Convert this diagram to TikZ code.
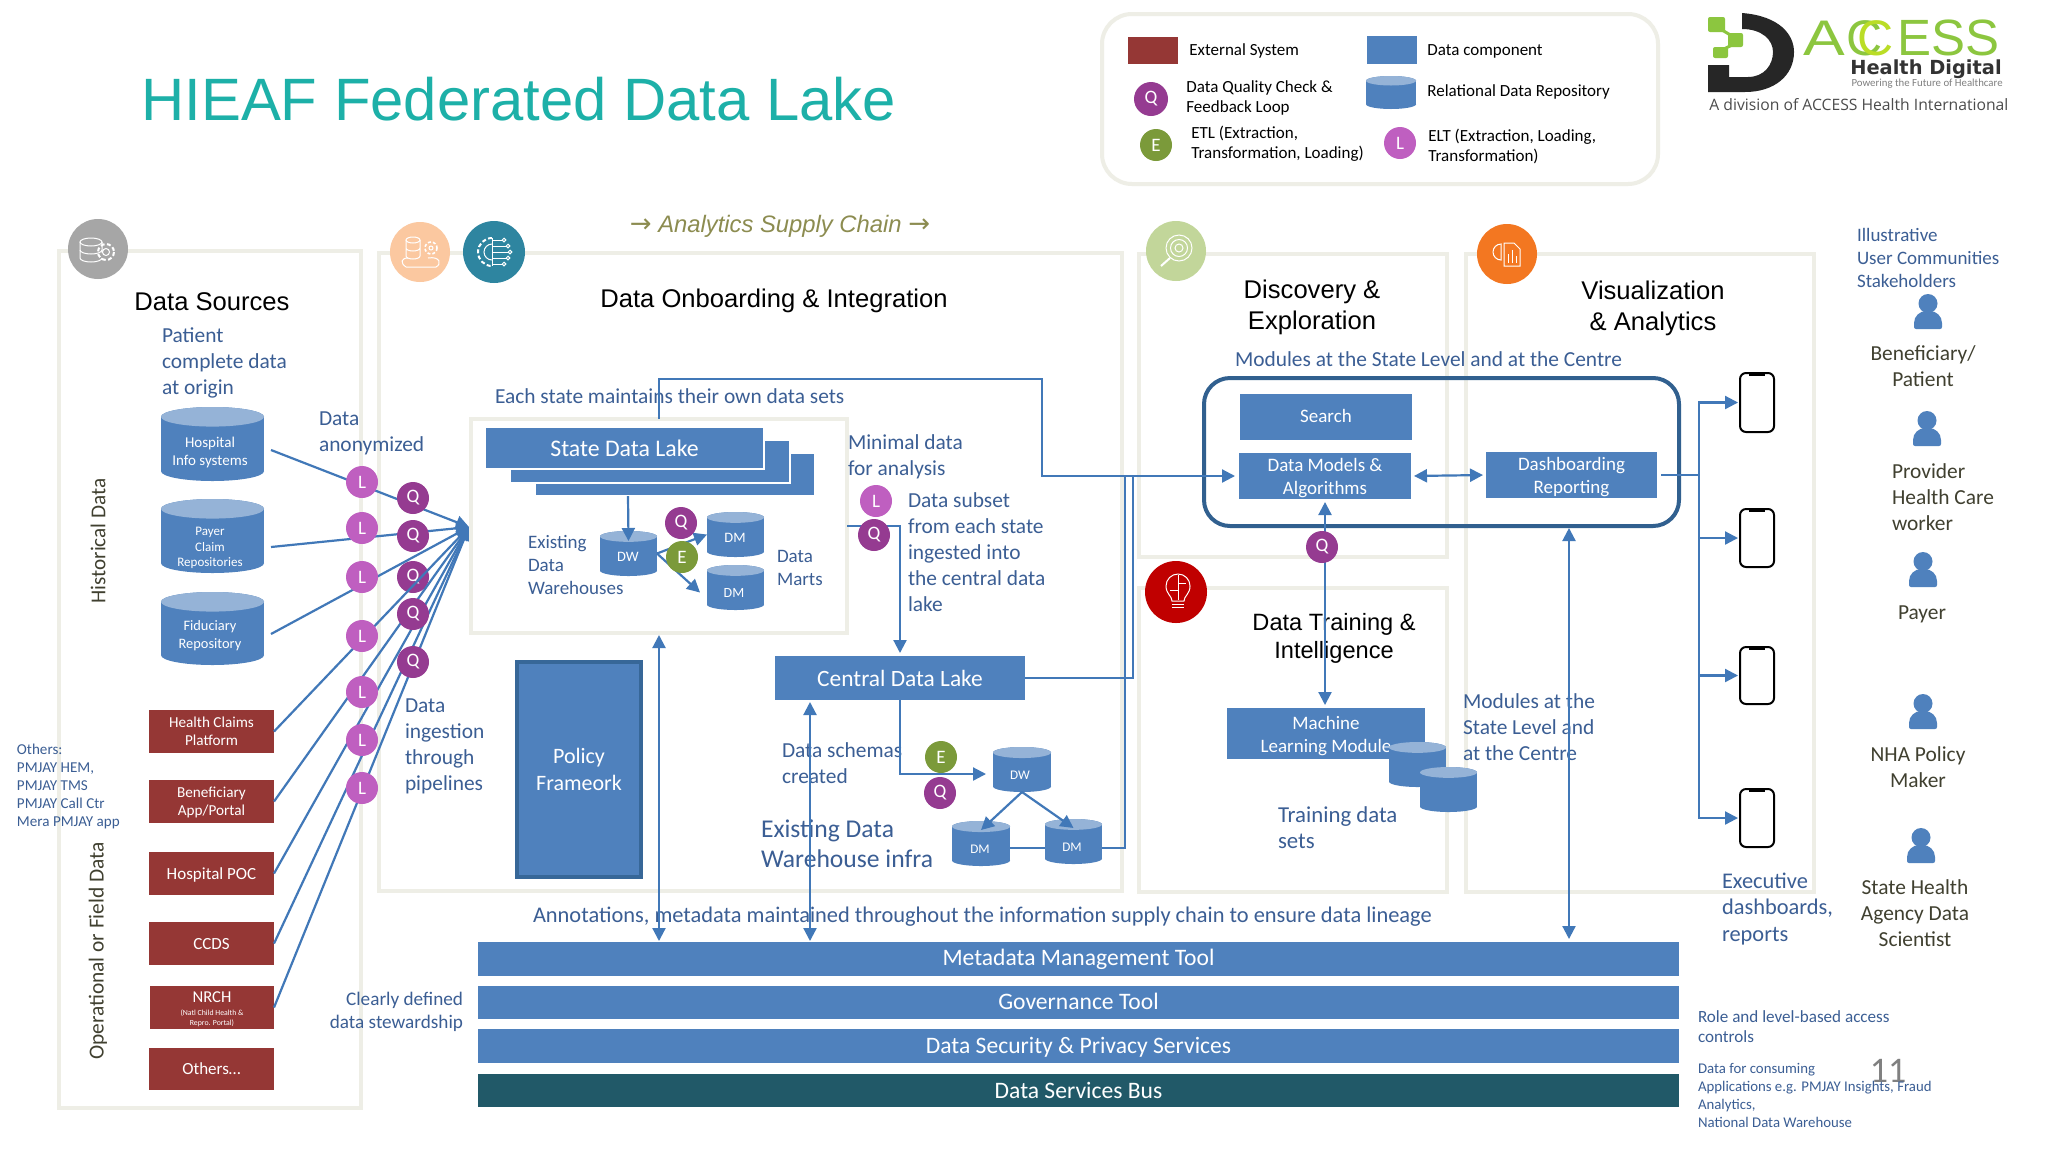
\documentclass[tikz,border=0pt]{standalone}
\usepackage{fontspec}
\usepackage{graphicx}
\usetikzlibrary{arrows.meta,calc}
\setmainfont{Carlito}
\newfontfamily\arl{Liberation Sans}
\newfontfamily\djv{DejaVu Sans}
\newfontfamily\ops{Open Sans}
\definecolor{bl}{HTML}{4F81BD}
\definecolor{bltop}{HTML}{95B3D7}
\definecolor{rd}{HTML}{953735}
\definecolor{pn}{HTML}{EEEEE6}
\definecolor{ln}{HTML}{4178B8}
\definecolor{tx}{HTML}{3B5E94}
\definecolor{grn}{HTML}{404030}
\definecolor{cL}{HTML}{BF5FC0}
\definecolor{cQ}{HTML}{953B91}
\definecolor{cE}{HTML}{7B9A3A}
\definecolor{nv}{HTML}{31608F}
\definecolor{tealbar}{HTML}{215968}
\definecolor{ttl}{HTML}{1DB0A8}
\definecolor{asc}{HTML}{8C8C50}
\definecolor{lgG}{HTML}{8CC63F}
\definecolor{icPeach}{HTML}{FBC8A0}
\definecolor{icTeal}{HTML}{2E85A0}
\definecolor{icGreen}{HTML}{C2D69A}
\definecolor{icOrange}{HTML}{F37721}
\definecolor{icRed}{HTML}{C00000}
\newcommand{\LL}[1]{\begin{tabular}[t]{@{}l@{}}#1\end{tabular}}
\newcommand{\CC}[1]{\begin{tabular}[t]{@{}c@{}}#1\end{tabular}}
\newcommand{\RR}[1]{\begin{tabular}[t]{@{}r@{}}#1\end{tabular}}
\newcommand{\Dn}[2]{\raisebox{-#1pt}[\height][\depth]{\begin{tabular}{@{}c@{}}#2\end{tabular}}}
\newcommand{\Bx}[7]{\pgfmathsetmacro\bxcx{(#2+#4)/2}\pgfmathsetmacro\bxcy{(#3+#5)/2}\pgfmathsetmacro\bxw{(#4-#2)*0.5}\pgfmathsetmacro\bxh{(#5-#3)*0.5}\node[inner sep=0,outer sep=0,minimum width=\bxw pt,minimum height=\bxh pt,#6] (#1) at (\bxcx,\bxcy) {#7};}
\newcommand{\Cyl}[5]{\pgfmathsetmacro\cyx{(#2+#4)/2}\pgfmathsetmacro\cyr{(#4-#2)*0.095}\pgfmathsetmacro\cyw{(#4-#2)/2}%
\fill[bl] (#2,#3+\cyr) rectangle (#4,#5-\cyr);\fill[bl] (\cyx,#5-\cyr) ellipse[x radius=\cyw,y radius=\cyr];\fill[bl] (\cyx,#3+\cyr) ellipse[x radius=\cyw,y radius=\cyr];%
\fill[bltop] (\cyx,#3+\cyr) ellipse[x radius=\cyw,y radius=\cyr];\Bx{#1}{#2}{#3}{#4}{#5}{}{}}
\newcommand{\Phone}[3]{\Bx{#1}{1740}{#2}{1774}{#3}{draw=black,line width=1pt,rounded corners=3pt,fill=white}{}\fill[black] (1749,#2) rectangle (1765,#2+2.5);}
\newcommand{\Pers}[2]{\begin{scope}[shift={(#1,#2)}]\fill[bl] (0,9.5) circle[radius=9.5];\fill[bl,rounded corners=1pt] (-14,35) -- (-14,31) .. controls (-14,22) and (-8,17) .. (0,17) .. controls (8,17) and (14,22) .. (14,31) -- (14,35) -- cycle;\end{scope}}
\tikzset{
 sz/.style 2 args={font=\fontsize{#1}{#2}\selectfont},
 arlz/.style 2 args={font=\arl\fontsize{#1}{#2}\selectfont},
 t/.style={inner sep=0,outer sep=0,anchor=base west,text=tx,sz={10.7}{13}},
 tc/.style={inner sep=0,outer sep=0,anchor=base,text=grn,sz={10.7}{13}},
 hd/.style={inner sep=0,outer sep=0,anchor=base,text=black,arlz={12.8}{15.5}},
 w/.style={text=white,align=center},
 panel/.style={draw=pn,line width=2pt,fill=white,fill opacity=0},
 blue/.style={fill=bl,w,sz={9.5}{11.5}},
 red/.style={fill=rd,w,sz={7.6}{9}},
 bar/.style={fill=bl,w,sz={11.8}{14}},
 ball/.style={circle,inner sep=0,minimum size=16pt,text=white,sz={9.5}{11}},
 bL/.style={ball,fill=cL},bQ/.style={ball,fill=cQ},bE/.style={ball,fill=cE},
 cn/.style={draw=ln,line width=1.1pt},
 ar/.style={cn,-{Triangle[length=6.5pt,width=6.5pt]}},
 dar/.style={cn,{Triangle[length=6.5pt,width=6.5pt]}-{Triangle[length=6.5pt,width=6.5pt]}},
 ic/.style={draw=white,line width=0.5pt,fill=none},
 cyt/.style={text=white,inner sep=0,align=center},
}
\begin{document}
\begin{tikzpicture}[x=0.5pt,y=-0.5pt]
\useasboundingbox[fill=white] (0,0) rectangle (2048,1152);
% panels
\Bx{pDS}{59}{251}{361}{1108}{panel}{}
\Bx{pON}{379}{253}{1122}{891}{panel}{}
\Bx{pDE}{1139}{254}{1447}{557}{panel}{}
\Bx{pTR}{1139}{588}{1447}{892}{panel}{}
\Bx{pVI}{1466}{254}{1814}{892}{panel}{}
% title
\node[inner sep=0,anchor=base west,text=ttl,arlz={29.9}{34}] (title) at (141,120) {HIEAF Federated Data Lake};
\node[inner sep=0,anchor=base,text=asc,font=\arl\itshape\fontsize{11.9}{15}\selectfont] (ascn) at (780,232) {{\djv\fontsize{13}{15}\selectfont →} Analytics Supply Chain {\djv\fontsize{13}{15}\selectfont →}};
% legend
\Bx{leg}{1102}{14}{1658}{184}{draw=pn,line width=2pt,rounded corners=15pt}{}
\Bx{lgR}{1128}{37}{1178}{64}{fill=rd}{}
\Bx{lgB}{1367}{36}{1417}{64}{fill=bl}{}
\Cyl{lgC}{1366}{76}{1416}{109}
\node[bQ,minimum size=17pt] (lgQ) at (1151,99) {Q};
\node[bE] (lgE) at (1156,145) {E};
\node[bL] (lgL) at (1400,143) {L};
\tikzset{lt/.style={inner sep=0,anchor=base west,text=black,sz={8.5}{10}}}
\node[lt] (lt1) at (1189,55) {External System};
\node[lt] (lt2) at (1427,55) {Data component};
\node[lt] (lt3) at (1186,92) {\LL{Data Quality Check \&\\Feedback Loop}};
\node[lt] (lt4) at (1427,96) {Relational Data Repository};
\node[lt] (lt5) at (1191,138) {\LL{ETL (Extraction,\\Transformation, Loading)}};
\node[lt] (lt6) at (1428,141) {\LL{ELT (Extraction, Loading,\\Transformation)}};
% logo
\fill[black!85] (1742,13) .. controls (1780,16) and (1794,35) .. (1794,52) .. controls (1794,75) and (1775,92) .. (1745,92) -- (1708,92) -- (1708,65) -- (1729,65) -- (1729,77) -- (1748,77) .. controls (1764,77) and (1773,65) .. (1773,52) .. controls (1773,40) and (1762,29) .. (1742,29) -- cycle;
\fill[lgG,rounded corners=1pt] (1708,17) rectangle (1725,32);
\fill[lgG,rounded corners=1pt] (1728,33) rectangle (1743,47);
\fill[lgG,rounded corners=1pt] (1713,47) rectangle (1728,58);
\draw[lgG,line width=1.5pt] (1722,30) -- (1732,36) (1732,45) -- (1724,49);
\node[inner sep=0,anchor=base west,text=lgG,arlz={25}{28}] (lgA) at (1803,55) {\scalebox{1.25}[1]{A}};
\node[inner sep=0,anchor=base west,text=lgG,arlz={25}{28}] (lgC1) at (1846,55) {C};
\node[inner sep=0,anchor=base west,text=lgG!60!yellow,arlz={25}{28}] (lgC2) at (1857,55) {C};
\node[inner sep=0,anchor=base west,text=lgG,arlz={25.5}{28}] (lgE2) at (1897,55) {ESS};
\node[inner sep=0,anchor=base east,text=black!80,font=\djv\bfseries\fontsize{9.7}{11}\selectfont] (lgH) at (2002,74) {Health Digital};
\node[inner sep=0,anchor=base east,text=black!50,sz={5.4}{6}] (lgP) at (2003,86) {Powering the Future of Healthcare};
\node[inner sep=0,anchor=base west,text=black!70,font=\ops\fontsize{7.85}{9}\selectfont] (lgD) at (1709,110) {A division of ACCESS Health International};
% icons
\fill[black!35] (98,249) circle[radius=30];
\draw[ic] (80,242) -- (80,258) arc[start angle=180,end angle=0,x radius=11,y radius=4] (102,242) -- (102,253);
\draw[ic] (91,242) ellipse[x radius=11,y radius=4];
\draw[ic] (80,250) arc[start angle=180,end angle=0,x radius=11,y radius=4];
\draw[ic,line width=1pt,dash pattern=on 2pt off 1.2pt] (106,252) circle[radius=8];
\draw[ic] (106,252) circle[radius=3.5];
\fill[icPeach] (420,252) circle[radius=30];
\draw[ic] (413,240) ellipse[x radius=7,y radius=3]; \draw[ic] (406,240) -- (406,256) (420,240) -- (420,256) (406,248) arc[start angle=180,end angle=0,x radius=7,y radius=3] (406,256) arc[start angle=180,end angle=0,x radius=7,y radius=3];
\draw[ic] (406,267) .. controls (400,263) and (401,258) .. (408,258) (428,258) .. controls (440,256) and (442,264) .. (436,267) -- (406,267);
\draw[ic,dash pattern=on 1.5pt off 1pt,line width=.8pt] (431,248) circle[radius=6];
\draw[ic] (431,248) circle[radius=2];
\fill[icTeal] (494,252) circle[radius=31];
\draw[ic,line width=1pt,dash pattern=on 2pt off 1.2pt] (492,238) arc[start angle=270,end angle=90,radius=14];
\draw[ic] (492,238) -- (492,266);
\draw[ic] (492,244) arc[start angle=270,end angle=90,radius=8];
\foreach \yy/\xx in {240/502,246/506,252/508,258/506,264/502}{\draw[ic] (492,\yy) -- (\xx,\yy); \draw[ic] (\xx+2,\yy) circle[radius=1.8];}
\fill[icGreen] (1176,251) circle[radius=30];
\draw[ic] (1179,248) circle[radius=13] (1179,248) circle[radius=8.5] (1179,248) circle[radius=4];
\draw[ic,line width=1pt] (1170,258) -- (1161,266);
\fill[icOrange] (1507,254) circle[radius=30];
\draw[ic] (1504,243) -- (1514,243) -- (1520,249) -- (1520,266) -- (1504,266) -- cycle;
\draw[ic] (1508,263) -- (1508,254) (1512,263) -- (1512,250) (1516,263) -- (1516,256);
\draw[ic] (1501,244) arc[start angle=270,end angle=90,radius=8] -- cycle;
\fill[icRed] (1176,592) circle[radius=31];
\draw[ic] (1172,601) .. controls (1172,596) and (1166,594) .. (1166,586) arc[start angle=180,end angle=360,radius=12] .. controls (1190,594) and (1184,596) .. (1184,601) -- cycle;
\draw[ic] (1172,604) -- (1184,604) (1172,607) -- (1184,607) (1178,575) -- (1178,600) (1178,583) -- (1186,583) (1178,590) -- (1170,590);
% headings
\node[hd] (hDS) at (212,310) {Data Sources};
\node[hd] (hON) at (774,307) {Data Onboarding \& Integration};
\node[hd] (hDE) at (1312,298) {\CC{Discovery \&\\Exploration}};
\node[hd] (hVI) at (1653,299) {\CC{Visualization\\\& Analytics}};
\node[hd,arlz={11.8}{14}] (hTR) at (1334,630) {\CC{Data Training \&\\Intelligence}};
% left texts
\node[t] (tPat) at (162,342) {\LL{Patient\\complete data\\at origin}};
\node[t] (tAno) at (319,425) {\LL{Data\\anonymized}};
\node[t] (tIng) at (405,712) {\LL{Data\\ingestion\\through\\pipelines}};
\node[t,sz={9.6}{11.5},anchor=base east] (tCle) at (463,1005) {\RR{Clearly defined\\data stewardship}};
\node[t,sz={7.55}{9}] (tOth) at (17,754) {\LL{Others:\\PMJAY HEM,\\PMJAY TMS\\PMJAY Call Ctr\\Mera PMJAY app}};
\node[inner sep=0,rotate=90,text=grn,sz={10.6}{11}] (vHis) at (98,541) {Historical Data};
\node[inner sep=0,rotate=90,text=grn,sz={10.7}{11}] (vOpe) at (98,951) {Operational or Field Data};
% source cylinders
\Cyl{cHos}{161}{407}{264}{481}
\node[cyt,sz={7.5}{9}] (cHosT) at (210,452) {Hospital\\Info systems};
\Cyl{cPay}{161}{499}{264}{573}
\node[cyt,sz={6.5}{7.6}] (cPayT) at (210,548) {Payer\\Claim\\Repositories};
\Cyl{cFid}{161}{592}{264}{665}
\node[cyt,sz={7.2}{9}] (cFidT) at (210,636) {Fiduciary\\Repository};
% red boxes
\Bx{rHC}{149}{710}{274}{753}{red}{\Dn{0.65}{Health Claims\\Platform}}
\Bx{rBe}{149}{780}{274}{823}{red}{\Dn{0.65}{Beneficiary\\App/Portal}}
\Bx{rPO}{149}{852}{274}{895}{red,sz={8.5}{9}}{\Dn{1.2}{Hospital POC}}
\Bx{rCC}{149}{922}{274}{965}{red,sz={8.5}{9}}{\Dn{1.2}{CCDS}}
\Bx{rNR}{150}{986}{274}{1029}{red}{}
\node[inner sep=0,text=white,sz={8.3}{9}] (rNRa) at (212,997) {NRCH};
\node[inner sep=0,text=white,align=center,sz={3.9}{5}] (rNRb) at (212,1018) {(Natl Child Health \&\\Repro. Portal)};
\Bx{rOt}{149}{1048}{274}{1090}{red,sz={8.5}{9}}{\Dn{0.7}{Others…}}
% ingestion connectors
\coordinate (tip) at (469,527);
\coordinate (oHos) at (271,450);
\coordinate (oPay) at (271,547);
\coordinate (oFid) at (271,634);
\node[bQ] (Q3) at (413,577) {Q};
\foreach \src in {oHos,oPay,oFid,rHC.east,rBe.east,rPO.east,rCC.east,rNR.east}{\draw[ar] (\src) -- (tip);}
\node[bL] (L1) at (362,482) {L};
\node[bL] (L2) at (362,528) {L};
\node[bL] (L3) at (362,577) {L};
\node[bL] (L4) at (362,636) {L};
\node[bL] (L5) at (362,692) {L};
\node[bL] (L6) at (362,740) {L};
\node[bL] (L7) at (362,788) {L};
\node[bQ] (Q1) at (413,498) {Q};
\node[bQ] (Q2) at (413,536) {Q};
\node[bQ] (Q4) at (413,614) {Q};
\node[bQ] (Q5) at (413,662) {Q};
% bars
\Bx{meta}{478}{942}{1679}{976}{bar}{\Dn{0.65}{Metadata Management Tool}}
\Bx{gov}{478}{986}{1679}{1019}{bar}{\Dn{0.65}{Governance Tool}}
\Bx{sec}{478}{1029}{1679}{1063}{bar}{\Dn{1}{Data Security \& Privacy Services}}
\Bx{bus}{478}{1074}{1679}{1107}{bar,fill=tealbar}{Data Services Bus}
% state panel
\Bx{sp}{471}{419}{847}{633}{draw=pn,line width=2pt,fill=white}{}
\Bx{sl3}{535}{453}{815}{496}{fill=bl,draw=white,line width=1pt}{}
\Bx{sl2}{510}{440}{790}{483}{fill=bl,draw=white,line width=1.2pt}{}
\Bx{sl1}{485}{427}{764}{469}{blue,draw=white,line width=1.2pt,sz={11.9}{13}}{State Data Lake}
\Cyl{dw1}{600}{531}{657}{576}
\node[cyt,sz={7.2}{9}] (dw1T) at (628,557) {DW};
\Cyl{dm1}{707}{512}{764}{557}
\node[cyt,sz={7.2}{9}] (dm1T) at (735,538) {DM};
\Cyl{dm2}{707}{565}{764}{610}
\node[cyt,sz={7}{9}] (dm2T) at (734,593) {DM};
\coordinate (slo) at (628,496);
\draw[ar] (slo) -- ($(dw1.north)+(0,10)$);
\draw[ar] (dw1.east) -- (dm1.west);
\draw[ar] (dw1.east) -- ($(dm2.west)+(-7,5)$);
\node[bQ] (Qs) at (681,523) {Q};
\node[bE] (Es) at (682,557) {E};
\node[t,sz={9.5}{11.6}] (tExi) at (528,548) {\LL{Existing\\Data\\Warehouses}};
\node[t,sz={9.5}{11.6}] (tMar) at (777,562) {\LL{Data\\Marts}};
\node[t] (tEach) at (495,403) {Each state maintains their own data sets};
\node[t] (tMin) at (848,449) {\LL{Minimal data\\for analysis}};
\node[t] (tSub) at (908,507) {\LL{Data subset\\from each state\\ingested into\\the central data\\lake}};
% policy, central
\Bx{pol}{517}{662}{641}{877}{fill=bl,draw=nv!80!bl,line width=2pt,w,sz={11}{13.5}}{Policy\\Frameork}
\Bx{cl}{775}{656}{1025}{700}{blue,sz={11.7}{13}}{Central Data Lake}
\node[t] (tSch) at (782,757) {\LL{Data schemas\\created}};
\node[t,sz={12.8}{15}] (tInf) at (761,837) {\LL{Existing Data\\Warehouse infra}};
\node[t,sz={11.2}{13}] (tAnn) at (533,922) {Annotations, metadata maintained throughout the information supply chain to ensure data lineage};
\Cyl{dw2}{993}{747}{1051}{792}
\node[cyt,sz={6.6}{8}] (dw2T) at (1020,775) {DW};
\Cyl{dma}{952}{821}{1010}{866}
\node[cyt,sz={6.6}{8}] (dmaT) at (980,849) {DM};
\Cyl{dmb}{1045}{819}{1102}{864}
\node[cyt,sz={6.6}{8}] (dmbT) at (1072,847) {DM};
% discovery
\node[t] (tMod) at (1235,366) {Modules at the State Level and at the Centre};
\Bx{mod}{1204}{378}{1679}{526}{draw=nv,line width=2pt,rounded corners=13pt}{}
\Bx{sr}{1240}{394}{1412}{440}{blue}{\Dn{0.65}{Search}}
\Bx{dm}{1239}{453}{1411}{499}{blue}{\Dn{1.3}{Data Models \&\\Algorithms}}
\Bx{db}{1486}{452}{1657}{498}{blue}{\Dn{1.2}{Dashboarding\\Reporting}}
\Bx{ml}{1227}{708}{1425}{759}{blue}{\Dn{1.6}{Machine\\Learning Module}}
\Cyl{ts1}{1389}{742}{1446}{787}
\Cyl{ts2}{1420}{767}{1477}{812}
\node[t,sz={11.4}{13}] (tTra) at (1278,822) {\LL{Training data\\sets}};
\node[t] (tSta) at (1463,708) {\LL{Modules at the\\State Level and\\at the Centre}};
% phones
\Phone{ph1}{373}{432}
\Phone{ph2}{509}{567}
\Phone{ph3}{647}{704}
\Phone{ph4}{789}{847}
\node[t,sz={11.2}{13.4}] (tExe) at (1722,888) {\LL{Executive\\dashboards,\\reports}};
% connectors
\coordinate (j1) at (1042,430);
\draw[ar,shorten >=2pt] (sp.north) -- ++(0,-40) -| (j1) |- (dm.west);
\draw[ar,shorten >=1.5pt] (sp.east) -| (cl.north);
\draw[dar,shorten <=1pt,shorten >=0.5pt] (sp.south) -- (sp.south |- meta.north);
\coordinate (c1) at (810,702);
\draw[dar,shorten >=0.5pt] (c1) -- (c1 |- meta.north);
\coordinate (in2) at (986,774);
\draw[ar] (cl.south) |- (in2);
\draw[ar] (dw2.south) -- ($(dma.north)+(0,9)$);
\draw[ar] (dw2.south) -- ($(dmb.north)+(0,9)$);
\coordinate (mdA) at (1010,848); \coordinate (mdB) at (1045,848); \coordinate (mdC) at (1102,848);
\draw[cn] (mdA) -- (mdB);
\coordinate (b1) at (1125,476); \coordinate (b2) at (1133,476);
\draw[cn] (mdC) -| (b1);
\draw[cn] (cl.east) -| (b2);
\node[bE] (Ec) at (941,757) {E};
\node[bQ] (Qc) at (940,793) {Q};
\node[bL] (Lm) at (876,501) {L};
\node[bQ] (Qm) at (874,535) {Q};
\draw[dar,shorten <=1.5pt,shorten >=1.5pt] (dm.east) -- (db.west);
\draw[dar,shorten <=1.5pt,shorten >=1.5pt] (dm.south) -- (dm.south |- ml.north);
\node[bQ] (Qd) at (1322,547) {Q};
\coordinate (v1) at (1569,526);
\draw[dar,shorten <=1pt,shorten >=1.5pt] (v1) -- (v1 |- meta.north);
\coordinate (b3) at (1699,475);
\draw[cn,shorten <=2pt] (db.east) -- (b3);
\foreach \ph in {ph1,ph2,ph3,ph4}{\draw[ar,shorten >=1pt] (b3) |- (\ph.west);}
% persons
\node[t,sz={9.5}{11.5}] (tIll) at (1857,241) {\LL{Illustrative\\User Communities\\Stakeholders}};
\Pers{1928}{294}
\Pers{1927}{411}
\Pers{1923}{552}
\Pers{1923}{694}
\Pers{1921}{828}
\node[tc] (uBe) at (1923,360) {\CC{Beneficiary/\\Patient}};
\node[tc,anchor=base west] (uPr) at (1892,478) {\LL{Provider\\Health Care\\worker}};
\node[tc] (uPa) at (1922,619) {Payer};
\node[tc] (uNH) at (1918,761) {\CC{NHA Policy\\Maker}};
\node[tc] (uSH) at (1915,894) {\CC{State Health\\Agency Data\\Scientist}};
% bottom right
\node[t,sz={8.55}{10}] (tRol) at (1698,1022) {\LL{Role and level-based access\\controls}};
\node[inner sep=0,anchor=base,text=black!50,sz={18}{20}] (pg) at (1888,1082) {11};
\node[t,sz={7.4}{9}] (tDat) at (1698,1073) {\LL{Data for consuming\\Applications e.g. PMJAY Insights, Fraud\\Analytics,\\National Data Warehouse}};
\end{tikzpicture}
\end{document}
